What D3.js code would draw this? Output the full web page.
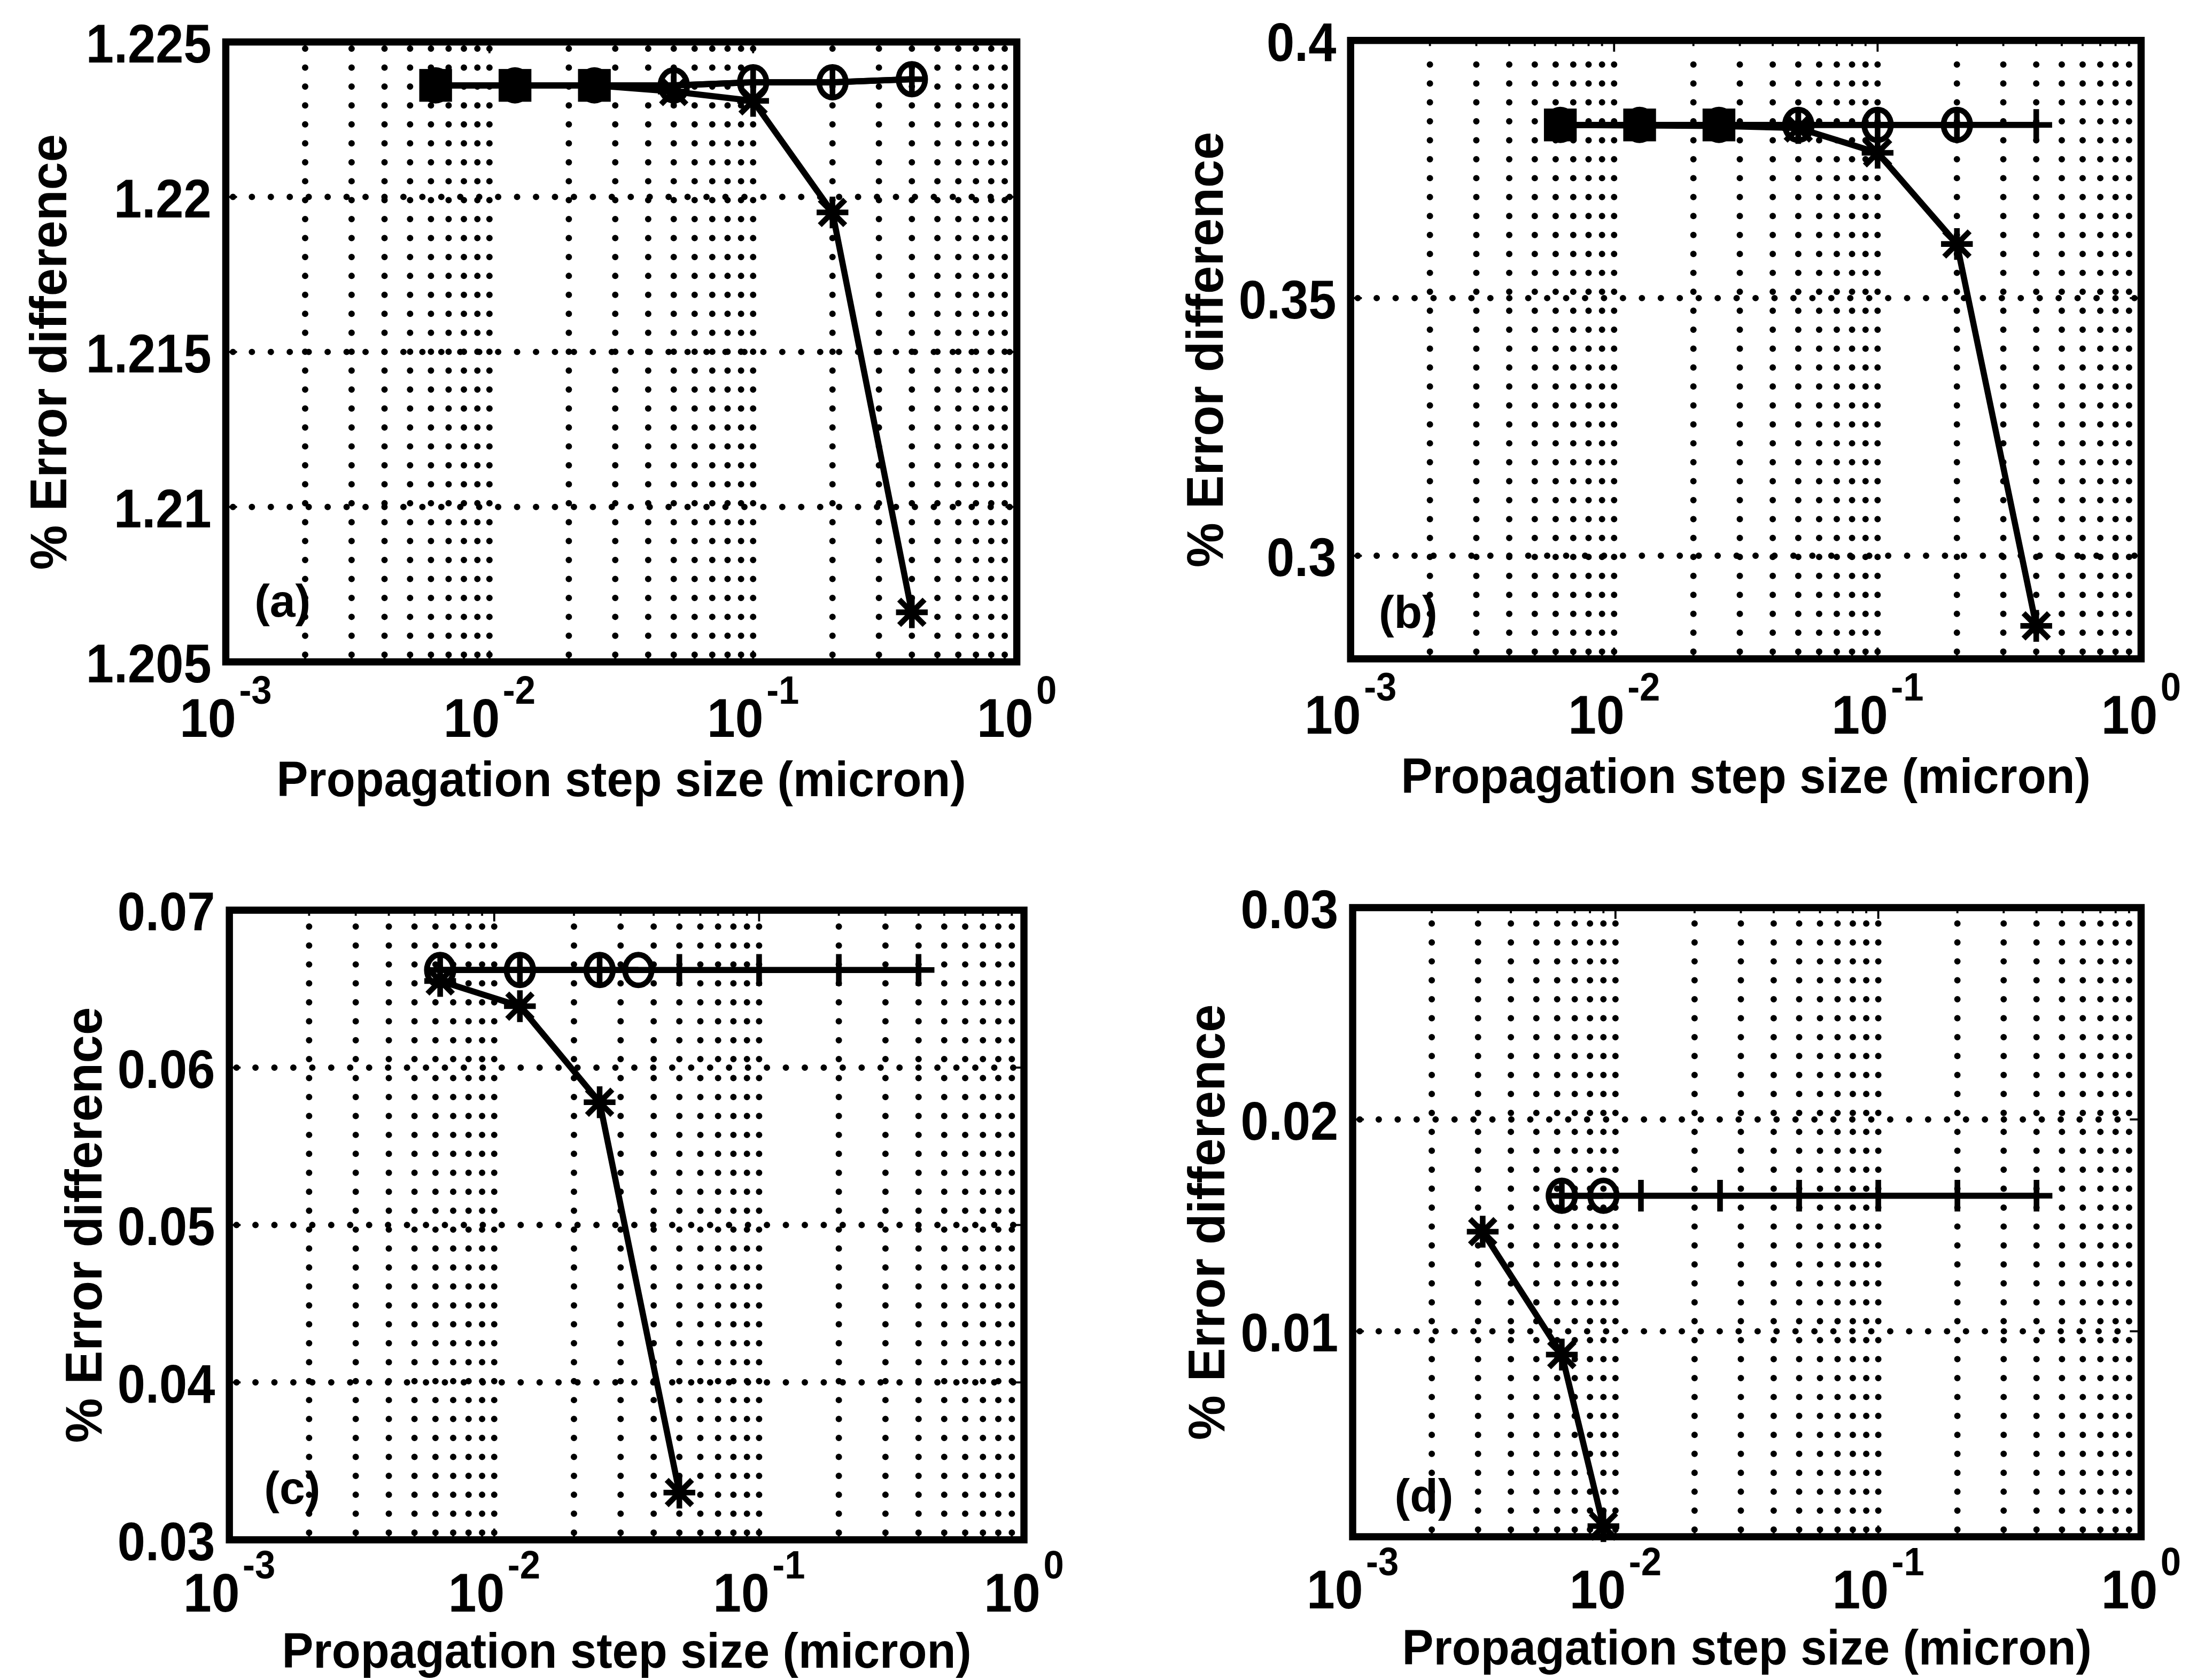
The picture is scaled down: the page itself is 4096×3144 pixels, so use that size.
<!DOCTYPE html>
<html>
<head>
<meta charset="utf-8">
<script src="https://cdn.jsdelivr.net/npm/d3@7"></script>
<style>
  html, body { margin: 0; padding: 0; background: #fff; }
  svg { display: block; }
</style>
</head>
<body>
<script>
// ---- data ----------------------------------------------------------------
// propagation step sizes (micron)
const steps = [0.00625, 0.0125, 0.025, 0.05, 0.1, 0.2, 0.4];
const xTickValues = [0.001, 0.01, 0.1, 1];
const xTickExponents = ["-3", "-2", "-1", "0"];

// (a)
const aYTicks = [1.205, 1.21, 1.215, 1.22, 1.225];
const aYTickLabels = ["1.205", "1.21", "1.215", "1.22", "1.225"];
const aPlus = [1.2236, 1.2236, 1.2236, 1.2236, 1.2237, 1.2237, 1.2238];
const aCircle = [1.2236, 1.2236, 1.2236, 1.2236, 1.2237, 1.2237, 1.2238];
const aStar = [1.2236, 1.2236, 1.2236, 1.2234, 1.2231, 1.2195, 1.2066];
const aSquareX = [0.00625, 0.0125, 0.025];
const aSquare = [1.2236, 1.2236, 1.2236];

// (b)
const bYTicks = [0.3, 0.35, 0.4];
const bYTickLabels = ["0.3", "0.35", "0.4"];
const bPlus = [0.3836, 0.3836, 0.3836, 0.3836, 0.3836, 0.3836, 0.3836];
const bCircleX = [0.00625, 0.0125, 0.025, 0.05, 0.1, 0.2];
const bCircle = [0.3836, 0.3836, 0.3836, 0.3836, 0.3836, 0.3836];
const bStar = [0.3836, 0.3835, 0.3834, 0.3830, 0.3782, 0.3605, 0.2864];
const bSquareX = [0.00625, 0.0125, 0.025];
const bSquare = [0.3836, 0.3836, 0.3836];

// (c)
const cYTicks = [0.03, 0.04, 0.05, 0.06, 0.07];
const cYTickLabels = ["0.03", "0.04", "0.05", "0.06", "0.07"];
const cPlus = [0.0662, 0.0662, 0.0662, 0.0662, 0.0662, 0.0662, 0.0662];
const cCircleX = [0.00625, 0.0125, 0.025, 0.035];
const cCircle = [0.0662, 0.0662, 0.0662, 0.0662];
const cStarX = [0.00625, 0.0125, 0.025, 0.05];
const cStar = [0.0655, 0.0639, 0.0578, 0.0330];

// (d)
const dYTicks = [0.01, 0.02, 0.03];
const dYTickLabels = ["0.01", "0.02", "0.03"];
const dPlus = [0.0164, 0.0164, 0.0164, 0.0164, 0.0164, 0.0164, 0.0164];
const dCircleX = [0.00625, 0.009];
const dCircle = [0.0164, 0.0164];
const dStarX = [0.003125, 0.00625, 0.009];
const dStar = [0.0147, 0.0089, 0.0008];

// ---- layout (reference pixels, scaled by K) -------------------------------
const K = 0.958;
const FONT = "'Liberation Sans', Arial, Helvetica, sans-serif";
const zip = (xs, ys) => xs.map((v, i) => [v, ys[i]]);

const panels = [
  { tag: "(a)", frame: [441, 1986, 82, 1293], yDomain: [1.205, 1.225],
    yTicks: aYTicks, yTickLabels: aYTickLabels, ylabelX: 93, tagOff: [56, 88],
    tickOff: 146, titleOff: 262,
    series: [
      { pts: zip(steps, aPlus), marker: "plus" },
      { pts: zip(steps, aCircle), marker: "circle" },
      { pts: zip(steps, aStar), marker: "star" },
      { pts: zip(aSquareX, aSquare), marker: "square" }
    ] },
  { tag: "(b)", frame: [2638, 4182, 79, 1287], yDomain: [0.28, 0.4],
    yTicks: bYTicks, yTickLabels: bYTickLabels, ylabelX: 2352, tagOff: [55, 60],
    tickOff: 146, titleOff: 262,
    series: [
      { pts: zip(steps, bPlus), marker: "plus" },
      { pts: zip(bCircleX, bCircle), marker: "circle" },
      { pts: zip(steps, bStar), marker: "star" },
      { pts: zip(bSquareX, bSquare), marker: "square" }
    ] },
  { tag: "(c)", frame: [448, 2000, 1778, 3008], yDomain: [0.03, 0.07],
    yTicks: cYTicks, yTickLabels: cYTickLabels, ylabelX: 162, tagOff: [68, 71],
    tickOff: 140, titleOff: 250,
    series: [
      { pts: zip(steps, cPlus), marker: "plus" },
      { pts: zip(cCircleX, cCircle), marker: "circle" },
      { pts: zip(cStarX, cStar), marker: "star" }
    ] },
  { tag: "(d)", frame: [2642, 4182, 1773, 3002], yDomain: [0.0003, 0.03],
    yTicks: dYTicks, yTickLabels: dYTickLabels, ylabelX: 2355, tagOff: [82, 50],
    tickOff: 140, titleOff: 250,
    series: [
      { pts: zip(steps, dPlus), marker: "plus" },
      { pts: zip(dCircleX, dCircle), marker: "circle" },
      { pts: zip(dStarX, dStar), marker: "star" }
    ] }
];

const svg = d3.select("body").append("svg")
  .attr("width", 4096).attr("height", 3144);
svg.append("rect").attr("width", 4096).attr("height", 3144).attr("fill", "#fff");

function drawMarker(g, type, cx, cy) {
  const h = 31 * K, sw = 11 * K;
  if (type === "plus") {
    g.append("path").attr("d", `M${cx - h},${cy}H${cx + h}M${cx},${cy - h}V${cy + h}`)
      .attr("stroke", "#000").attr("stroke-width", sw).attr("fill", "none");
  } else if (type === "star") {
    const d = h * 0.8;
    g.append("path").attr("d",
      `M${cx - h},${cy}H${cx + h}M${cx},${cy - h}V${cy + h}` +
      `M${cx - d},${cy - d}L${cx + d},${cy + d}M${cx - d},${cy + d}L${cx + d},${cy - d}`)
      .attr("stroke", "#000").attr("stroke-width", sw).attr("fill", "none");
  } else if (type === "circle") {
    g.append("ellipse").attr("cx", cx).attr("cy", cy).attr("rx", 26 * K).attr("ry", 30 * K)
      .attr("stroke", "#000").attr("stroke-width", sw).attr("fill", "none");
  } else if (type === "square") {
    const s = 32 * K;
    g.append("rect").attr("x", cx - s).attr("y", cy - s).attr("width", 2 * s).attr("height", 2 * s)
      .attr("fill", "#000");
  }
}

panels.forEach(p => {
  const [L, R, T, B] = p.frame.map(v => v * K);
  const x = d3.scaleLog().domain([1e-3, 1]).range([L, R]);
  const y = d3.scaleLinear().domain(p.yDomain).range([B, T]);
  const g = svg.append("g");

  // dotted grid: every log tick vertically, major y ticks horizontally
  const gridDots = { stroke: "#000", "stroke-width": 12.5 * K, "stroke-linecap": "round",
                     "stroke-dasharray": `0 ${37 * K}` };
  const vx = x.ticks().filter(v => v > 1e-3 * 1.0001 && v < 0.9999);
  vx.forEach(v => {
    const l = g.append("line").attr("x1", x(v)).attr("x2", x(v))
      .attr("y1", B - 14 * K).attr("y2", T + 12 * K);
    Object.entries(gridDots).forEach(([k, val]) => l.attr(k, val));
  });
  p.yTicks.filter(v => v > p.yDomain[0] + 1e-9 && v < p.yDomain[1] - 1e-9).forEach(v => {
    const l = g.append("line").attr("x1", L + 14 * K).attr("x2", R - 12 * K)
      .attr("y1", y(v)).attr("y2", y(v));
    Object.entries(gridDots).forEach(([k, val]) => l.attr(k, val));
  });

  // inward tick marks on all four sides
  const tk = g.append("g").attr("stroke", "#000").attr("stroke-width", 4 * K);
  x.ticks().forEach(v => {
    const major = xTickValues.some(t => Math.abs(Math.log10(v) - Math.log10(t)) < 1e-6);
    const len = (major ? 22 : 11) * K;
    tk.append("line").attr("x1", x(v)).attr("x2", x(v)).attr("y1", B).attr("y2", B - len);
    tk.append("line").attr("x1", x(v)).attr("x2", x(v)).attr("y1", T).attr("y2", T + len);
  });
  p.yTicks.forEach(v => {
    tk.append("line").attr("x1", L).attr("x2", L + 22 * K).attr("y1", y(v)).attr("y2", y(v));
    tk.append("line").attr("x1", R).attr("x2", R - 22 * K).attr("y1", y(v)).attr("y2", y(v));
  });

  // data series
  const line = d3.line().x(d => x(d[0])).y(d => y(d[1]));
  p.series.forEach(s => {
    if (s.marker !== "square") {
      g.append("path").attr("d", line(s.pts)).attr("fill", "none")
        .attr("stroke", "#000").attr("stroke-width", 12 * K)
        .attr("stroke-linejoin", "round");
    }
    s.pts.forEach(d => drawMarker(g, s.marker, x(d[0]), y(d[1])));
  });

  // axes frame
  g.append("rect").attr("x", L).attr("y", T).attr("width", R - L).attr("height", B - T)
    .attr("fill", "none").attr("stroke", "#000").attr("stroke-width", 14 * K);

  // x tick labels: 10 with exponent
  xTickValues.forEach((v, i) => {
    const t = g.append("text")
      .attr("transform", `translate(${x(v)},${B + p.tickOff * K}) scale(0.93,1)`)
      .attr("text-anchor", "middle")
      .attr("font-family", FONT).attr("font-weight", "bold")
      .attr("font-size", 102);
    t.append("tspan").text("10");
    t.append("tspan").attr("dx", 6).attr("dy", -62).attr("font-size", 74).text(xTickExponents[i]);
  });

  // y tick labels
  p.yTicks.forEach((v, i) => {
    g.append("text")
      .attr("transform", `translate(${L - 28 * K},${y(v) + 38}) scale(0.92,1)`)
      .attr("text-anchor", "end")
      .attr("font-family", FONT).attr("font-weight", "bold")
      .attr("font-size", 102)
      .text(p.yTickLabels[i]);
  });

  // axis titles
  g.append("text")
    .attr("transform", `translate(${(L + R) / 2},${B + p.titleOff * K}) scale(0.96,1)`)
    .attr("text-anchor", "middle")
    .attr("font-family", FONT).attr("font-weight", "bold").attr("font-size", 92)
    .text("Propagation step size (micron)");
  g.append("text")
    .attr("transform", `translate(${(p.ylabelX + 36) * K},${(T + B) / 2}) rotate(-90) scale(0.98,1)`)
    .attr("text-anchor", "middle")
    .attr("font-family", FONT).attr("font-weight", "bold").attr("font-size", 96)
    .text("% Error difference");

  // panel tag
  g.append("text")
    .attr("x", L + p.tagOff[0] * K).attr("y", B - p.tagOff[1] * K)
    .attr("font-family", FONT).attr("font-weight", "bold").attr("font-size", 86)
    .text(p.tag);
});
</script>
</body>
</html>
